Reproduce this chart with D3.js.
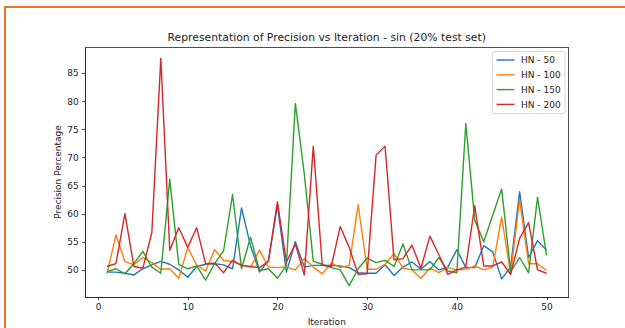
<!DOCTYPE html>
<meta charset="utf-8">
<style>
body { margin: 0; background: #fff; }
text { font-family: "DejaVu Sans", sans-serif; fill: #222; }
.axis text { font-size: 9px; fill: #222; }
.axis path, .axis line { stroke: #222; stroke-width: 0.8px; shape-rendering: crispEdges; }
.series { fill: none; stroke-width: 1.4px; stroke-linejoin: round; }
</style>
<svg width="625" height="328"></svg>
<script src="https://d3js.org/d3.v7.min.js"></script>
<script>
// iterations 1..50
var iterations = d3.range(1, 51);

var hn50 = [49.6, 49.6, 49.4, 49.1, 50.2, 50.9, 51.5, 51.0, 50.0, 48.7,
            50.6, 51.0, 51.1, 50.9, 50.2, 61.0, 54.3, 49.6, 51.7, 61.5,
            49.6, 55.0, 50.5, 50.8, 50.8, 50.8, 50.7, 50.4, 49.5, 49.4,
            49.4, 50.9, 49.0, 50.5, 51.4, 50.1, 51.5, 50.0, 50.5, 53.6,
            50.4, 50.4, 54.3, 53.2, 48.4, 50.5, 63.9, 52.2, 55.2, 53.5];

var hn100 = [49.3, 56.2, 51.5, 50.9, 52.2, 51.3, 50.1, 50.2, 48.5, 53.9,
             50.9, 49.8, 53.6, 51.7, 51.5, 50.8, 50.5, 53.5, 50.5, 50.4,
             50.5, 50.0, 52.0, 50.5, 49.3, 51.2, 50.4, 50.8, 61.6, 50.1,
             50.1, 51.0, 52.9, 50.3, 50.0, 48.5, 50.3, 49.5, 50.4, 50.0,
             50.1, 50.7, 50.0, 50.5, 59.4, 49.3, 62.5, 51.1, 51.1, 49.9];

var hn150 = [49.7, 50.2, 49.3, 51.1, 53.3, 50.5, 49.4, 66.1, 51.0, 50.2,
             50.7, 48.2, 51.1, 53.4, 63.4, 50.2, 55.8, 49.9, 50.2, 48.5,
             50.8, 79.6, 67.0, 51.5, 51.0, 50.4, 50.0, 47.2, 50.2, 52.1,
             51.3, 51.7, 50.6, 54.6, 50.0, 50.0, 50.0, 52.2, 49.8, 49.5,
             76.0, 58.8, 55.0, 59.7, 64.4, 49.7, 52.2, 49.5, 62.9, 52.6];

var hn200 = [50.6, 51.1, 60.0, 50.6, 50.3, 56.6, 87.6, 53.5, 57.5, 54.0,
             57.5, 51.1, 51.2, 49.5, 51.7, 50.8, 50.6, 50.4, 51.5, 62.1,
             51.4, 54.6, 49.1, 72.0, 50.8, 50.6, 57.7, 54.0, 49.2, 49.3,
             70.4, 72.0, 51.8, 52.0, 54.4, 50.3, 56.0, 52.7, 49.2, 50.0,
             50.5, 61.4, 50.7, 50.7, 51.4, 49.2, 55.6, 58.4, 50.0, 49.4];

var seriesNames = ["HN - 50", "HN - 100", "HN - 150", "HN - 200"];
var seriesColors = ["#1f77b4", "#ff7f0e", "#2ca02c", "#d62728"];
var xTicks = [0, 10, 20, 30, 40, 50];
var yTicks = [50, 55, 60, 65, 70, 75, 80, 85];

var series = [hn50, hn100, hn150, hn200];

var svg = d3.select("svg"),
    margin = {top: 47, right: 56.5, bottom: 31, left: 85},
    width = +svg.attr("width") - margin.left - margin.right,
    height = +svg.attr("height") - margin.top - margin.bottom;

// orange frame around the picture
svg.append("rect")
    .attr("x", 5).attr("y", 7)
    .attr("width", 640).attr("height", 340)
    .attr("fill", "none")
    .attr("stroke", "#e5762b")
    .attr("stroke-width", 2);

var g = svg.append("g")
    .attr("transform", "translate(" + margin.left + "," + margin.top + ")");

// matplotlib-like 5% margins
var allY = d3.merge(series);
var yMin = d3.min(allY), yMax = d3.max(allY);
var yPad = (yMax - yMin) * 0.05;
var xPad = (50 - 1) * 0.05;

var x = d3.scaleLinear()
    .domain([1 - xPad, 50 + xPad])
    .range([0, width]);

var y = d3.scaleLinear()
    .domain([yMin - yPad, yMax + yPad])
    .range([height, 0]);

var line = d3.line()
    .x(function(d, i) { return x(iterations[i]); })
    .y(function(d) { return y(d); });

series.forEach(function(s, k) {
  g.append("path")
      .datum(s)
      .attr("class", "series")
      .attr("stroke", seriesColors[k])
      .attr("d", line);
});

g.append("g")
    .attr("class", "axis axis--x")
    .attr("transform", "translate(0," + height + ")")
    .call(d3.axisBottom(x).tickValues(xTicks).tickSize(3.2).tickPadding(3).tickSizeOuter(0));

g.append("g")
    .attr("class", "axis axis--y")
    .call(d3.axisLeft(y).tickValues(yTicks).tickSize(3.2).tickPadding(3).tickSizeOuter(0));

// frame (spines)
g.append("rect")
    .attr("width", width).attr("height", height)
    .attr("fill", "none")
    .attr("stroke", "#222")
    .attr("stroke-width", 0.8)
    .attr("shape-rendering", "crispEdges");

svg.append("text")
    .attr("x", margin.left + width / 2)
    .attr("y", 41)
    .attr("text-anchor", "middle")
    .style("font-size", "10.8px")
    .text("Representation of Precision vs Iteration - sin (20% test set)");

svg.append("text")
    .attr("x", margin.left + width / 2)
    .attr("y", 325)
    .attr("text-anchor", "middle")
    .style("font-size", "9px")
    .text("Iteration");

svg.append("text")
    .attr("transform", "translate(61," + (margin.top + height / 2) + ") rotate(-90)")
    .attr("text-anchor", "middle")
    .style("font-size", "9px")
    .text("Precision Percentage");

// legend
var legend = svg.append("g").attr("transform", "translate(492.5,51.5)");
legend.append("rect")
    .attr("width", 72.5).attr("height", 62)
    .attr("rx", 2.5)
    .attr("fill", "#fff").attr("fill-opacity", 0.8)
    .attr("stroke", "#ccc").attr("stroke-width", 0.8);

seriesNames.forEach(function(name, k) {
  var row = legend.append("g").attr("transform", "translate(0," + (8.5 + k * 14.8) + ")");
  row.append("line")
      .attr("x1", 4).attr("x2", 22)
      .attr("stroke", seriesColors[k]).attr("stroke-width", 1.4);
  row.append("text")
      .attr("x", 28.5).attr("y", 3.2)
      .style("font-size", "9px")
      .text(name);
});
</script>
